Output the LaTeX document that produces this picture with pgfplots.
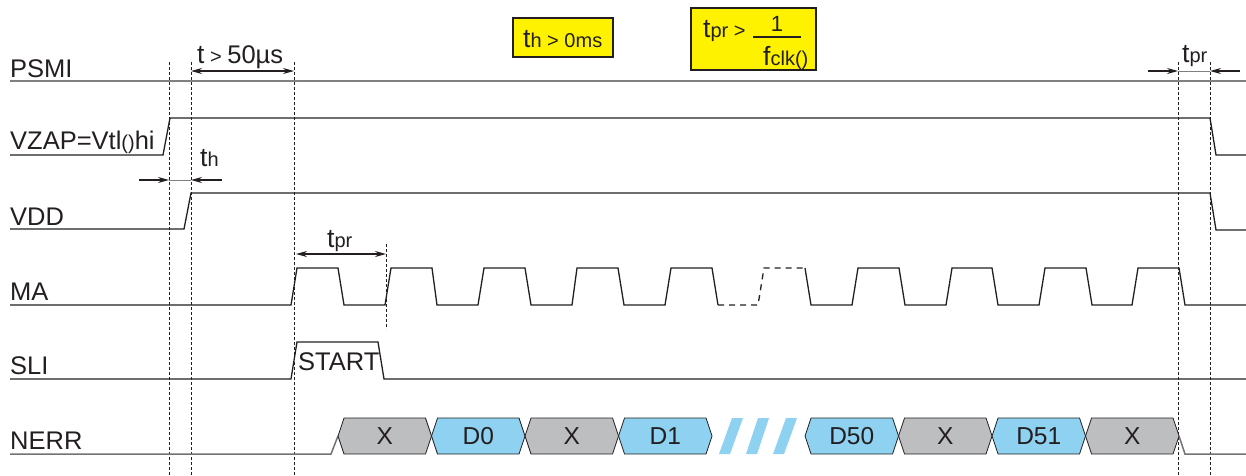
\documentclass[border=0pt]{standalone}
\usepackage{fontspec}
\setmainfont{Liberation Sans}
\usepackage{pgfplots}
\pgfplotsset{compat=1.18}
\usetikzlibrary{arrows.meta}

\definecolor{ink}{HTML}{231F20}
\definecolor{busgray}{HTML}{BCBEC0}
\definecolor{busblue}{HTML}{8ED1F0}
\definecolor{note}{HTML}{FFF200}

\newcommand\Main{\fontsize{25.5}{28}\selectfont}
\newcommand\Lg{\fontsize{26.5}{28}\selectfont}
\newcommand\Sm{\fontsize{20}{22}\selectfont}

\tikzset{
  sig/.style={draw=ink, line width=1.3pt},
  vline/.style={draw=ink, line width=0.9pt, dash pattern=on 3pt off 2pt},
  lbl/.style={anchor=base west, inner sep=0pt, text=ink, font=\Main},
  bus/.style={anchor=base, inner sep=0pt, text=ink, font=\fontsize{24.5}{26}\selectfont},
  tip/.style={draw=ink, line width=1.3pt, -{Stealth[length=11pt,width=6pt]}},
  tips/.style={draw=ink, line width=1.3pt, {Stealth[length=11pt,width=6pt]}-{Stealth[length=11pt,width=6pt]}},
  hexg/.style={fill=busgray, draw=ink, line width=0.8pt},
  hexb/.style={fill=busblue, draw=ink, line width=0.8pt},
}

\begin{document}
\begin{tikzpicture}
\begin{axis}[
    width=1246pt, height=475pt, scale only axis,
    xmin=0, xmax=1246, ymin=0, ymax=475,
    y dir=reverse, hide axis, clip=false,
]
% frame for the bounding box
\addplot[draw=none] coordinates {(0,0)(1246,475)};

% note boxes
\addplot[fill=note, draw=ink, line width=1.5pt] coordinates {(513,18)(613,18)(613,57)(513,57)} -- cycle;
\addplot[fill=note, draw=ink, line width=1.5pt] coordinates {(691,8)(816,8)(816,70)(691,70)} -- cycle;
\addplot[ink, line width=1.4pt] coordinates {(753,37)(801,37)};
\node[lbl] at (axis cs:523,47) {{\Lg t}{\Sm h > 0ms}};
\node[lbl] at (axis cs:703,37) {{\Lg t}{\Sm pr >}};
\node[anchor=base, inner sep=0pt, text=ink, font=\fontsize{22}{24}\selectfont] at (axis cs:777,31) {1};
\node[lbl] at (axis cs:763,65) {{\Lg f}{\Sm clk()}};

% dashed markers
\addplot[vline] coordinates {(169,62)(169,475)};
\addplot[vline] coordinates {(191,62)(191,475)};
\addplot[vline] coordinates {(294,62)(294,475)};
\addplot[vline] coordinates {(386,244)(386,329)};
\addplot[vline] coordinates {(1178,62)(1178,475)};
\addplot[vline] coordinates {(1210,62)(1210,475)};

% signal names
\node[lbl] at (axis cs:10,77) {PSMI};
\node[lbl] at (axis cs:10,149) {VZAP=Vtl{\Sm ()}hi};
\node[lbl] at (axis cs:10,225) {VDD};
\node[lbl] at (axis cs:10,300) {MA};
\node[lbl] at (axis cs:10,374) {SLI};
\node[lbl] at (axis cs:10,449) {NERR};

% PSMI
\addplot[draw=gray, line width=1.8pt] coordinates {(10,81)(1246,81)};
% VZAP
\addplot[sig] coordinates {(10,155)(163,155)(170,118)(1210,118)(1216,155)(1246,155)};
% VDD
\addplot[sig] coordinates {(10,229)(184,229)(191,193)(1210,193)(1216,230)(1246,230)};
% MA
\addplot[sig] coordinates {(10,305)(291,305)(297,268)(338,268)(344,305)(385,305)(391,268)(432,268)(437,305)
  (478,305)(484,268)(525,268)(531,305)(572,305)(577,268)(618,268)(624,305)(665,305)(671,268)(712,268)(718,305)};
\addplot[sig, dash pattern=on 6pt off 5pt] coordinates {(718,305)(758,305)(764,268)(805,268)};
\addplot[sig] coordinates {(805,268)(811,305)(852,305)(858,268)(899,268)(905,305)(946,305)(952,268)(992,268)
  (998,305)(1039,305)(1045,268)(1086,268)(1092,305)(1132,305)(1138,268)(1179,268)(1185,305)(1246,305)};
% SLI
\addplot[sig] coordinates {(10,379)(291,379)(297,342)(378,342)(384,379)(1246,379)};
\node[lbl] at (axis cs:298,370) {START};

% NERR
\addplot[draw=gray!90!black, line width=1.5pt] coordinates {(10,454)(331,454)(338,436)};
\addplot[draw=gray!90!black, line width=1.5pt] coordinates {(1179,436)(1185,454)(1246,454)};
\addplot[hexg] coordinates {(338,436)(344,418)(425.5,418)(431.5,436)(425.5,454)(344,454)} -- cycle;
\addplot[hexb] coordinates {(431.5,436)(437.5,418)(519,418)(525,436)(519,454)(437.5,454)} -- cycle;
\addplot[hexg] coordinates {(525,436)(531,418)(612.5,418)(618.5,436)(612.5,454)(531,454)} -- cycle;
\addplot[hexb] coordinates {(618.5,436)(624.5,418)(706,418)(712,436)(706,454)(624.5,454)} -- cycle;
\addplot[fill=busblue, draw=none] coordinates {(719,454)(730,454)(743,418)(732,418)} -- cycle;
\addplot[fill=busblue, draw=none] coordinates {(746,454)(757,454)(769,418)(758,418)} -- cycle;
\addplot[fill=busblue, draw=none] coordinates {(773,454)(784,454)(797,418)(786,418)} -- cycle;
\addplot[hexb] coordinates {(805,436)(811,418)(892.5,418)(898.5,436)(892.5,454)(811,454)} -- cycle;
\addplot[hexg] coordinates {(898.5,436)(904.5,418)(986,418)(992,436)(986,454)(904.5,454)} -- cycle;
\addplot[hexb] coordinates {(992,436)(998,418)(1079.5,418)(1085.5,436)(1079.5,454)(998,454)} -- cycle;
\addplot[hexg] coordinates {(1085.5,436)(1091.5,418)(1173,418)(1179,436)(1173,454)(1091.5,454)} -- cycle;
\node[bus] at (axis cs:384.75,444) {X};
\node[bus] at (axis cs:478.25,444) {D0};
\node[bus] at (axis cs:571.75,444) {X};
\node[bus] at (axis cs:665.25,444) {D1};
\node[bus] at (axis cs:851.75,444) {D50};
\node[bus] at (axis cs:945.25,444) {X};
\node[bus] at (axis cs:1038.75,444) {D51};
\node[bus] at (axis cs:1132.25,444) {X};

% timing arrows
\addplot[tips] coordinates {(191,71)(294,71)};
\node[lbl] at (axis cs:197,63) {{\Lg t}{\Sm{} > }50µs};
\addplot[tip] coordinates {(139,180)(169,180)};
\addplot[tip] coordinates {(222,180)(191,180)};
\addplot[draw=gray, line width=0.8pt] coordinates {(169,180)(191,180)};
\node[lbl] at (axis cs:200,166) {{\Lg t}{\Sm h}};
\addplot[tips] coordinates {(296,254)(386,254)};
\node[lbl] at (axis cs:327,247) {{\Lg t}{\Sm pr}};
\addplot[tip] coordinates {(1148,71)(1178,71)};
\addplot[tip] coordinates {(1240,71)(1210,71)};
\addplot[draw=gray, line width=0.8pt] coordinates {(1178,71)(1210,71)};
\node[lbl] at (axis cs:1182,62) {{\Lg t}{\Sm pr}};
\end{axis}
\pgfresetboundingbox
\path (0,0) rectangle (1246pt,475pt);
\end{tikzpicture}
\end{document}
